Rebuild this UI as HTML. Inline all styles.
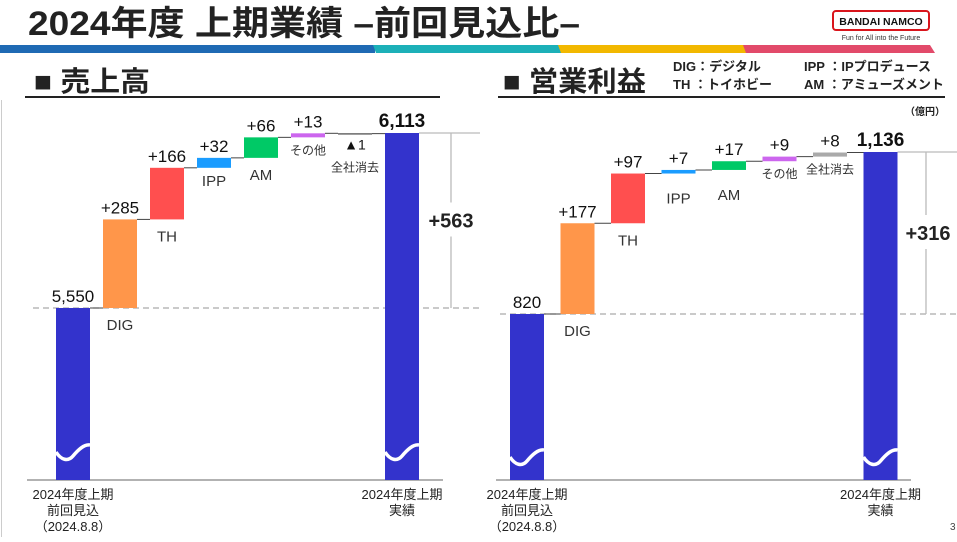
<!DOCTYPE html>
<html><head><meta charset="utf-8">
<style>
body{margin:0;width:957px;height:537px;overflow:hidden;background:#fff;font-family:"Liberation Sans","Noto Sans CJK JP",sans-serif;}
svg text{font-family:"Liberation Sans","Noto Sans CJK JP",sans-serif;}
</style></head><body>
<svg id="s" width="957" height="537" viewBox="0 0 957 537">
<text x="28" y="35" font-size="34" font-weight="bold" fill="#222" textLength="552" lengthAdjust="spacingAndGlyphs">2024年度 上期業績 –前回見込比–</text>
<rect x="0" y="45" width="375" height="8" fill="#1f6ab4"/>
<polygon points="373,45 560,45 563,53 376,53" fill="#1cb0b8"/>
<polygon points="558,45 745,45 748,53 561,53" fill="#f2b800"/>
<polygon points="743,45 930,45 935,53 746,53" fill="#e24a6a"/>
<g>
<rect x="833" y="11" width="96" height="19" rx="3" fill="#fff" stroke="#d9151c" stroke-width="2"/>
<text x="881" y="25" font-size="10.5" font-weight="bold" text-anchor="middle" fill="#111">BANDAI NAMCO</text>
<text x="881" y="40" font-size="7" text-anchor="middle" fill="#333">Fun for All into the Future</text>
</g>
<line x1="1.5" y1="100" x2="1.5" y2="537" stroke="#ccc"/>
<text x="34" y="91" font-size="28" font-weight="bold" fill="#222" textLength="116" lengthAdjust="spacingAndGlyphs">■ 売上高</text>
<line x1="25" y1="97" x2="440" y2="97" stroke="#222" stroke-width="2"/>
<text x="503" y="91" font-size="28" font-weight="bold" fill="#222" textLength="143" lengthAdjust="spacingAndGlyphs">■ 営業利益</text>
<line x1="498" y1="97" x2="945" y2="97" stroke="#222" stroke-width="2"/>
<g font-size="13" font-weight="bold" fill="#222">
<text x="673" y="71">DIG：デジタル</text><text x="673" y="89">TH  ：トイホビー</text>
<text x="804" y="71">IPP ：IPプロデュース</text><text x="804" y="89">AM ：アミューズメント</text>
</g>
<text x="945" y="115" font-size="10" font-weight="bold" text-anchor="end" fill="#222">（億円）</text>
<text x="950" y="530" font-size="10" fill="#444" font-family="Liberation Serif">3</text>
<g id="c1"></g><g id="c2"></g>
</svg>
<script>
const cats = ["DIG","TH","IPP","AM","その他","全社消去"];
const salesBase = 5550;
const salesDeltas = [285,166,32,66,13,-1];
const salesTotal = 6113;
const opBase = 820;
const opDeltas = [177,97,7,17,9,8];
const opTotal = 1136;
const colors = ["#ff964a","#ff4f4f","#1a9cff","#00c966","#cc66ee","#aaaaaa"];
const NS="http://www.w3.org/2000/svg";
function mk(p,tag,a,txt){const e=document.createElementNS(NS,tag);for(const k in a)e.setAttribute(k,a[k]);if(txt!=null)e.textContent=txt;p.appendChild(e);return e;}
function fmt(v){return v.toLocaleString("en-US");}
function draw(gid,cfg,base,deltas,total){
  const g=document.getElementById(gid);
  const y=v=>cfg.yBase-(v-base)*cfg.k;
  const x=i=>cfg.x0+i*cfg.step;
  const w=34, axisY=480;
  let e=mk(g,"line",{x1:cfg.dashX1,y1:y(base),x2:cfg.dashX2,y2:y(base),stroke:"#aaa","stroke-width":1.3,"stroke-dasharray":"6,4"});
  
  
  e=mk(g,"line",{x1:cfg.ax1,y1:axisY,x2:cfg.ax2,y2:axisY,stroke:"#999","stroke-width":1.5});
  
  
  e=mk(g,"rect",{x:x(0),y:y(base),width:w,height:axisY-y(base),fill:"#3333cc"});
  
  
  e=mk(g,"text",{x:x(0)+w/2,y:y(base)-6,"font-size":17,"text-anchor":"middle",fill:"#111"},fmt(base));
  
  
  let cum=base;
  deltas.forEach((d,i)=>{
    const nx=cum+d;
    const xi=x(i+1);
    mk(g,"line",{x1:xi-cfg.step+w,y1:y(cum),x2:xi,y2:y(cum),stroke:"#444","stroke-width":1});
    const top=y(Math.max(cum,nx)),bot=y(Math.min(cum,nx));
    const neg=d<0;
    const hb=neg?1.2:Math.max(bot-top,3.5);
    const r=mk(g,"rect",{x:xi,y:top,width:w,height:hb,fill:neg?"#444":colors[i]});
    
    
    const lab=neg?"▲"+Math.abs(d):"+"+d;
    if(neg&&cfg.negLabelAbove){
      const t=mk(g,"text",{x:xi+w/2,y:top+16,"font-size":14,"text-anchor":"middle",fill:"#111"},lab);
      
      
      const c=mk(g,"text",{x:xi+w/2,y:top+38,"font-size":12,"text-anchor":"middle",fill:"#333"},cats[i]);
      
      
    } else {
      const t=mk(g,"text",{x:xi+w/2,y:top-6,"font-size":17,"text-anchor":"middle",fill:"#111"},lab);
      
      
      const small=i>=4;
      const c=mk(g,"text",{x:xi+w/2,y:top+hb+(small?17:(hb<10?cfg.thinOff:22)),"font-size":small?12:15,"text-anchor":"middle",fill:"#333"},cats[i]);
      
      
    }
    cum=nx;
  });
  const xt=x(deltas.length+1);
  mk(g,"line",{x1:xt-cfg.step+w,y1:y(cum),x2:xt,y2:y(cum),stroke:"#444","stroke-width":1});
  e=mk(g,"rect",{x:xt,y:y(total),width:w,height:axisY-y(total),fill:"#3333cc"});
  
  
  e=mk(g,"text",{x:xt+w/2,y:y(total)-6,"font-size":19,"font-weight":"bold","text-anchor":"middle",fill:"#111"},fmt(total));
  
  
  [x(0),xt].forEach(bx=>{
    const b=cfg.brk;
    const p=mk(g,"path",{d:`M${bx} ${b-4} C${bx+5} ${b+4} ${bx+12} ${b+6} ${bx+17} ${b} S${bx+28} ${b-12} ${bx+34} ${b-11}`,fill:"none",stroke:"#fff","stroke-width":3.5});
    
    
  });
  const bx=cfg.brX;
  mk(g,"line",{x1:xt+w,y1:y(total),x2:cfg.dashX2,y2:y(total),stroke:"#bbb","stroke-width":1.3});
  mk(g,"line",{x1:bx,y1:y(total),x2:bx,y2:y(base),stroke:"#bbb","stroke-width":1.3});
  const dy=(y(total)+y(base))/2;
  mk(g,"rect",{x:bx-22,y:dy-18,width:50,height:34,fill:"#fff"});
  e=mk(g,"text",{x:bx+cfg.diffDx,y:dy+7,"font-size":20,"font-weight":"bold","text-anchor":"middle",fill:"#222"},"+"+(total-base));
  
  
  const xl=[["2024年度上期","前回見込","（2024.8.8）"],["2024年度上期","実績"]];
  [[x(0)+w/2,xl[0]],[xt+w/2,xl[1]]].forEach(([cx,lines],j)=>{
    lines.forEach((s,k)=>{
      const t=mk(g,"text",{x:cx,y:499+k*16,"font-size":13,"text-anchor":"middle",fill:"#222"},s);
      
      
    });
  });
}
draw("c1",{x0:56,step:47,yBase:308,k:175/563,dashX1:33,dashX2:480,ax1:27,ax2:443,brX:451,brk:456,negLabelAbove:true,thinOff:18,diffDx:0},salesBase,salesDeltas,salesTotal);
draw("c2",{x0:510,step:50.5,yBase:314,k:162/316,dashX1:500,dashX2:957,ax1:496,ax2:911,brX:926,brk:461,negLabelAbove:false,thinOff:30,diffDx:2},opBase,opDeltas,opTotal);
</script>
</body></html>
